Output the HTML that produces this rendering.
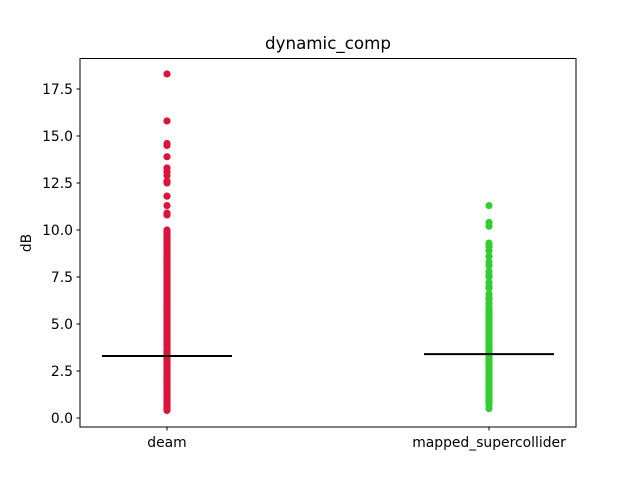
<!DOCTYPE html>
<html><head><meta charset="utf-8"><style>
body{margin:0;background:#fff;font-family:"Liberation Sans","DejaVu Sans",sans-serif}
svg text{font-family:"DejaVu Sans","Liberation Sans",sans-serif;font-size:13.9px;fill:#000}
</style></head><body>
<svg id="chart" width="640" height="480" xmlns="http://www.w3.org/2000/svg">
<rect width="640" height="480" fill="#fff"/>
<g id="marks"></g>
<rect x="80" y="58.5" width="496" height="368.5" fill="none" stroke="#000" stroke-width="1"/>
<text x="328" y="49" text-anchor="middle" style="font-size:16.7px">dynamic_comp</text>
<text transform="translate(31,243) rotate(-90)" text-anchor="middle">dB</text>
<g id="axes"></g>
</svg>
<script>
const categories = ["deam", "mapped_supercollider"];
const colors = ["#dc143c", "#32cd32"];
const deamValues = [18.3,15.8,14.6,14.5,13.9,13.3,13.1,12.9,12.6,12.5,11.8,11.3,10.9,10.8,10.0,9.9,9.8,9.7,9.6,9.5,9.4,9.3,9.2,9.1,9.0,8.9,8.8,8.7,8.6,8.5,8.4,8.3,8.2,8.1,8.0,7.9,7.8,7.7,7.6,7.5,7.4,7.3,7.2,7.1,7.0,6.9,6.8,6.7,6.6,6.5,6.4,6.3,6.2,6.1,6.0,5.9,5.8,5.7,5.6,5.5,5.4,5.3,5.2,5.1,5.0,4.9,4.8,4.7,4.6,4.5,4.4,4.3,4.2,4.1,4.0,3.9,3.8,3.7,3.6,3.5,3.4,3.3,3.2,3.1,3.0,2.9,2.8,2.7,2.6,2.5,2.4,2.3,2.2,2.1,2.0,1.9,1.8,1.7,1.6,1.5,1.4,1.3,1.2,1.1,1.0,0.9,0.8,0.7,0.6,0.5,0.4];
const mappedValues = [11.3,10.4,10.2,9.3,9.2,9.1,8.9,8.6,8.3,8.1,7.8,7.6,7.5,7.2,7.0,6.9,6.6,6.4,6.3,6.1,5.9,5.8,5.7,5.6,5.5,5.4,5.3,5.2,5.1,5.0,4.9,4.8,4.7,4.6,4.5,4.4,4.3,4.2,4.1,4.0,3.9,3.8,3.7,3.6,3.5,3.4,3.3,3.2,3.1,3.0,2.9,2.8,2.7,2.6,2.5,2.4,2.3,2.2,2.1,2.0,1.9,1.8,1.7,1.6,1.5,1.4,1.3,1.2,1.1,1.0,0.9,0.8,0.7,0.5];
const means = [3.3, 3.4];
const yTicks = [0,2.5,5,7.5,10,12.5,15,17.5];
const yTickLabels = ["0.0","2.5","5.0","7.5","10.0","12.5","15.0","17.5"];

const NS="http://www.w3.org/2000/svg";
const y = v => 418 - v*18.8;
const x = i => 167 + i*322;
const marks=document.getElementById('marks'), axes=document.getElementById('axes');
function mk(tag,attrs,parent){const e=document.createElementNS(NS,tag);for(const k in attrs)e.setAttribute(k,attrs[k]);parent.appendChild(e);return e;}
[deamValues,mappedValues].forEach((vals,i)=>{
  vals.forEach(v=>{
    const c=mk('circle',{cx:x(i),cy:y(v),r:3.6,fill:colors[i]},marks);
    
    
  });
});
means.forEach((m,i)=>{
  const l=mk('line',{x1:x(i)-65,x2:x(i)+65,y1:y(m),y2:y(m),stroke:'#000','stroke-width':2},marks);
  
  
});
yTicks.forEach((t,i)=>{
  const l=mk('line',{x1:76.5,x2:80,y1:y(t),y2:y(t),stroke:'#000'},axes);
  
  
  const tx=mk('text',{x:73,y:y(t)+5,'text-anchor':'end'},axes);
  tx.textContent=yTickLabels[i];
  
  
});
categories.forEach((c,i)=>{
  const l=mk('line',{x1:x(i),x2:x(i),y1:427,y2:430.5,stroke:'#000'},axes);
  
  
  const tx=mk('text',{x:x(i),y:447,'text-anchor':'middle'},axes);
  tx.textContent=c;
  
  
});
</script>
</body></html>
